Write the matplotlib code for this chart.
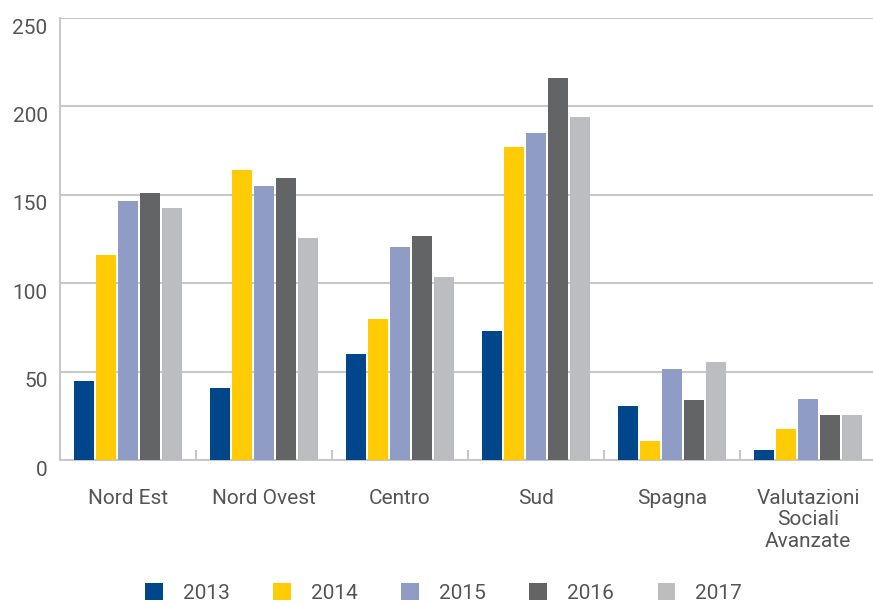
import matplotlib
matplotlib.use("Agg")
import matplotlib.pyplot as plt
import matplotlib.transforms as mtransforms
from matplotlib.patches import Patch
import numpy as np

categories = ["Nord Est", "Nord Ovest", "Centro", "Sud", "Spagna", "Valutazioni\nSociali\nAvanzate"]
years = ["2013", "2014", "2015", "2016", "2017"]
v2013 = [44.7, 40.7, 60.0, 73.0, 30.5, 5.7]
v2014 = [116.0, 164.0, 79.8, 177.2, 10.7, 17.5]
v2015 = [146.5, 155.0, 120.6, 185.2, 51.5, 34.5]
v2016 = [151.0, 159.5, 126.8, 216.3, 34.0, 25.5]
v2017 = [142.5, 125.6, 103.6, 194.2, 55.4, 25.5]
series = [v2013, v2014, v2015, v2016, v2017]
colors = ["#00468b", "#fecb05", "#8f9cc5", "#636466", "#bcbdc0"]

plt.rcParams['font.family'] = ['Roboto', 'DejaVu Sans']
text_color = "#555555"
grid_color = "#c8c8c8"
fs = 15

fig = plt.figure(figsize=(8.73, 6.03), dpi=100)
W, H = 873, 603
left, right, bottom, top = 60, 876, 460, 18
ax = fig.add_axes([left / W, (H - bottom) / H, (right - left) / W, (bottom - top) / H])

x = np.arange(len(categories))
pitch = 22 / 136
bw = 20 / 136
for i, (vals, c) in enumerate(zip(series, colors)):
    ax.bar(x + (i - 2) * pitch, vals, width=bw, color=c, label=years[i], zorder=3)

ax.set_xlim(-0.5, len(categories) - 0.5)
ax.set_ylim(0, 250)
ax.set_yticks([0, 50, 100, 150, 200, 250])
ax.yaxis.grid(True, color=grid_color, linewidth=1.5, zorder=0)
ax.set_axisbelow(True)

for s in ["top", "right"]:
    ax.spines[s].set_visible(False)
for s in ["left", "bottom"]:
    ax.spines[s].set_color(grid_color)
    ax.spines[s].set_linewidth(1.5)

ax.set_xticks(x)
ax.set_xticklabels(categories, linespacing=1.15)
ax.tick_params(axis='x', which='major', length=0, pad=21, labelsize=fs, labelcolor=text_color)
ax.set_xticks(x[:-1] + 0.5, minor=True)
ax.tick_params(axis='x', which='minor', direction='in', length=7, width=1.5, color=grid_color)
ax.tick_params(axis='y', length=0, pad=9, labelsize=fs, labelcolor=text_color)

offset = mtransforms.ScaledTranslation(0, -0.08, fig.dpi_scale_trans)
for lbl in ax.get_yticklabels():
    lbl.set_transform(lbl.get_transform() + offset)

handles = [Patch(facecolor=c, edgecolor='none') for c in colors]
leg = fig.legend(handles, years, loc='center', bbox_to_anchor=(0.508, 0.017), ncol=5,
                 frameon=False, fontsize=fs, handlelength=0.85, handleheight=0.85,
                 handletextpad=0.95, columnspacing=2.1)
for t in leg.get_texts():
    t.set_color(text_color)

fig.savefig("out.png", dpi=100)
